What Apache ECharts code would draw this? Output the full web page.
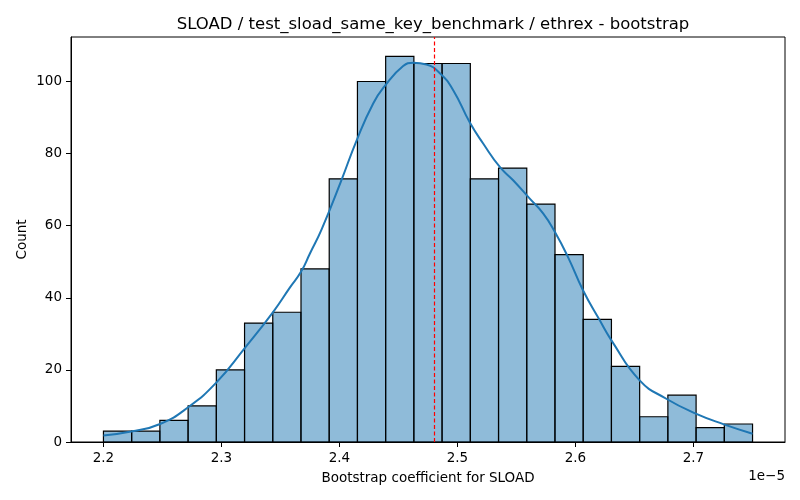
<!DOCTYPE html>
<html>
<head>
<meta charset="utf-8">
<script src="https://cdn.jsdelivr.net/npm/echarts@6/dist/echarts.min.js"></script>
<style>
  html, body { margin: 0; padding: 0; background: #fff; }
  #root { width: 800px; height: 500px; }
</style>
</head>
<body>
<div id="root"></div>
<script>
// histogram counts (23 bins), x values in units of 1e-5
const binStart = 2.2
const binWidth = 0.023917
const counts = [3, 3, 6, 10, 20, 33, 36, 48, 73, 100, 107, 105, 105, 73, 76, 66, 52, 34, 21, 7, 13, 4, 5]

// kde curve
const kdeX = [2.2000, 2.2235, 2.2480, 2.2720, 2.2960, 2.3194, 2.3439, 2.3581, 2.3674, 2.3750,
  2.3849, 2.4013, 2.4146, 2.4286, 2.4385, 2.4540, 2.4625, 2.4738,
  2.4851, 2.4964, 2.5105, 2.5218, 2.5359, 2.5472, 2.5613, 2.5726, 2.5825, 2.5937,
  2.6064, 2.6206, 2.6305, 2.6544, 2.6770, 2.7025, 2.7258, 2.7501]
const kdeY = [1.8, 2.9, 5.0, 9.7, 16.6, 25.9, 36.1, 42.9, 47.2, 52.3,
  59.0, 72.3, 83.7, 93.9, 98.8, 104.3, 105.2, 104.7,
  102.3, 97.6, 88.6, 82.8, 76.3, 72.6, 67.5, 63.4, 58.3, 51.3,
  42.1, 33.75, 28.2, 17.1, 12.0, 7.8, 4.9, 2.3]

const meanValue = 2.481

const xTicks = [2.2, 2.3, 2.4, 2.5, 2.6, 2.7]
const yTicks = [0, 20, 40, 60, 80, 100]

const font = 'DejaVu Sans'

const bins = counts.map((c, i) => [binStart + i * binWidth, binStart + (i + 1) * binWidth, c])
const kde = kdeX.map((x, i) => [x, kdeY[i]])

const chart = echarts.init(document.getElementById('root'))

const option = {
  animation: false,
  textStyle: { fontFamily: font },
  title: {
    text: 'SLOAD / test_sload_same_key_benchmark / ethrex - bootstrap',
    left: 428,
    top: 11,
    textAlign: 'center',
    textStyle: { fontFamily: font, fontSize: 16.5, fontWeight: 'normal', color: '#000' }
  },
  grid: {
    left: 71,
    right: 15,
    top: 37,
    bottom: 58,
    show: true,
    borderColor: '#000',
    borderWidth: 1,
    backgroundColor: 'transparent'
  },
  xAxis: {
    type: 'value',
    min: 2.1725,
    max: 2.7776,
    name: 'Bootstrap coefficient for SLOAD',
    nameLocation: 'middle',
    nameGap: 29,
    nameTextStyle: { fontFamily: font, fontSize: 13.5, color: '#000' },
    splitLine: { show: false },
    axisLine: { lineStyle: { color: '#000', width: 1 } },
    axisTick: { show: true, length: 5, lineStyle: { color: '#000' }, customValues: xTicks },
    axisLabel: {
      fontFamily: font, fontSize: 13.5, color: '#000', margin: 9,
      customValues: xTicks,
      formatter: v => v.toFixed(1)
    }
  },
  yAxis: {
    type: 'value',
    min: 0,
    max: 112.35,
    name: 'Count',
    nameLocation: 'middle',
    nameGap: 42,
    nameMoveOverlap: false,
    nameTextStyle: { fontFamily: font, fontSize: 13.5, color: '#000' },
    splitLine: { show: false },
    axisLine: { show: true, lineStyle: { color: '#000', width: 1 } },
    axisTick: { show: true, length: 5, lineStyle: { color: '#000' }, customValues: yTicks },
    axisLabel: {
      fontFamily: font, fontSize: 13.5, color: '#000', margin: 9,
      customValues: yTicks
    }
  },
  series: [
    {
      type: 'custom',
      data: bins,
      encode: { x: [0, 1], y: 2 },
      z: 1,
      renderItem: (params, api) => {
        const p0 = api.coord([api.value(0), api.value(2)])
        const p1 = api.coord([api.value(1), 0])
        return {
          type: 'rect',
          shape: { x: p0[0], y: p0[1], width: p1[0] - p0[0], height: p1[1] - p0[1] },
          style: { fill: 'rgba(31,119,180,0.5)', stroke: '#000', lineWidth: 1.2 }
        }
      }
    },
    {
      type: 'line',
      data: kde,
      smooth: 0.5,
      showSymbol: false,
      z: 3,
      lineStyle: { color: '#1f77b4', width: 2 },
      markLine: {
        silent: true,
        symbol: 'none',
        label: { show: false },
        lineStyle: { color: '#ff0000', type: [4, 2.5], width: 1.2 },
        data: [{ xAxis: meanValue }]
      }
    }
  ],
  graphic: [
    {
      type: 'text',
      right: 15,
      top: 469,
      style: { text: '1e\u22125', fontFamily: font, fontSize: 13.5, fill: '#000' }
    }
  ]
}

chart.setOption(option)
</script>
</body>
</html>
